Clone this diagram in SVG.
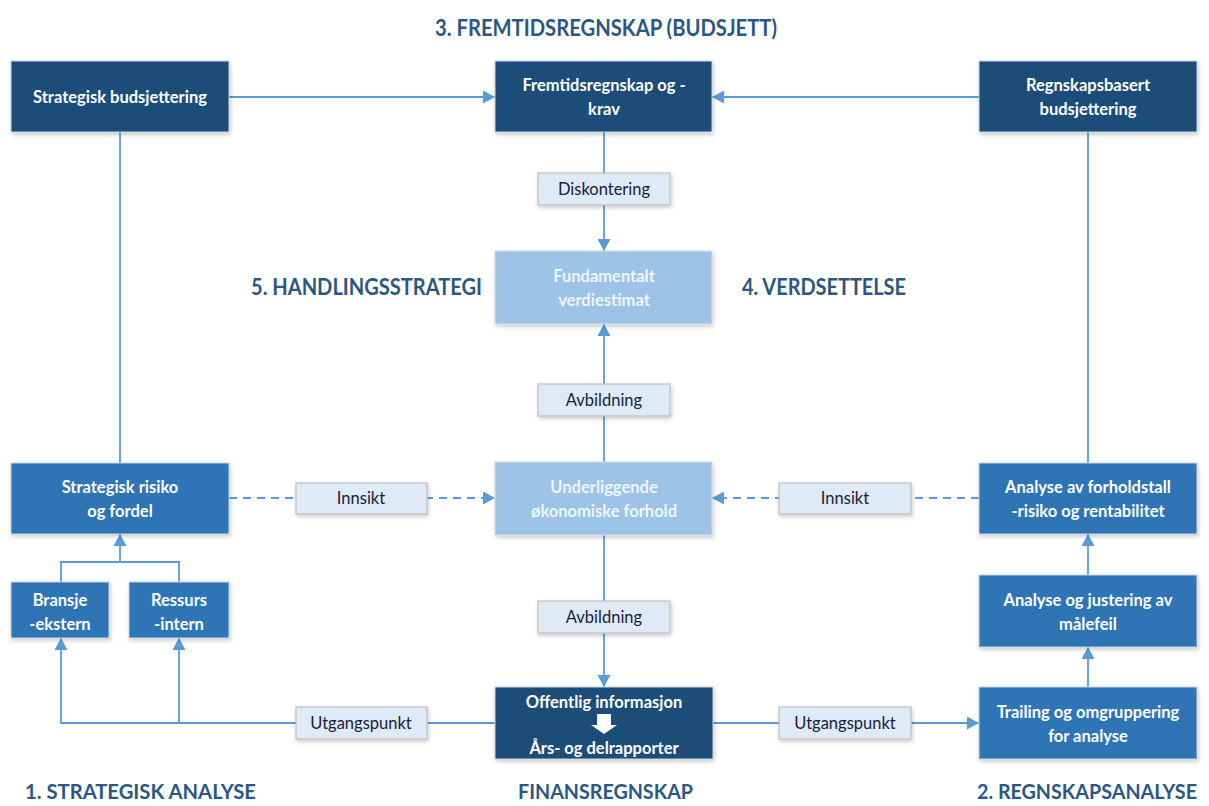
<svg xmlns="http://www.w3.org/2000/svg" width="1209" height="806" viewBox="0 0 1209 806">
  <style>
    .dark { fill: #1f4e79; stroke: #c9d3de; stroke-width: 1; }
    .mid { fill: #2e75b6; stroke: #c9d3de; stroke-width: 1; }
    .light { fill: #9dc3e6; stroke: #d4dde6; stroke-width: 1; }
    .lbl { fill: #deebf7; stroke: #bfbfbf; stroke-width: 1.2; }
    .bt { font-family: Lato, "Liberation Sans", sans-serif; font-size: 16.5px; font-weight: 700; fill: #ffffff; text-anchor: middle; }
    .lt { font-family: Lato, "Liberation Sans", sans-serif; font-size: 16.5px; font-weight: 700; fill: #eef5fc; text-anchor: middle; }
    .lb { font-family: Lato, "Liberation Sans", sans-serif; font-size: 16.5px; font-weight: 400; fill: #1b1b3a; text-anchor: middle; }
    .title { font-family: Lato, "Liberation Sans", sans-serif; font-size: 22px; font-weight: 700; fill: #2a5783; }
    .foot { font-size: 21px; }
    .conn { fill: none; stroke: #5b9bd5; stroke-width: 1.8; }
    .dash { stroke-dasharray: 8 6; }
  </style>
  <defs>
    <marker id="arr" markerUnits="userSpaceOnUse" markerWidth="13" markerHeight="13" refX="12" refY="6.5" orient="auto">
      <path d="M0,0 L12,6.5 L0,13 z" fill="#5b9bd5"/>
    </marker>
    <filter id="sh" x="-10%" y="-10%" width="120%" height="130%">
      <feDropShadow dx="1" dy="2" stdDeviation="2" flood-color="#000" flood-opacity="0.22"/>
    </filter>
  </defs>
  <rect width="1209" height="806" fill="#ffffff"/>

  <!-- section titles -->
  <g id="titles">
    <text class="title" x="435" y="36" textLength="342" lengthAdjust="spacingAndGlyphs">3. FREMTIDSREGNSKAP (BUDSJETT)</text>
    <text class="title" x="251" y="295" textLength="231" lengthAdjust="spacingAndGlyphs">5. HANDLINGSSTRATEGI</text>
    <text class="title" x="742" y="295" textLength="164" lengthAdjust="spacingAndGlyphs">4. VERDSETTELSE</text>
    <text class="title foot" x="25" y="799" textLength="231" lengthAdjust="spacingAndGlyphs">1. STRATEGISK ANALYSE</text>
    <text class="title foot" x="518" y="799" textLength="175" lengthAdjust="spacingAndGlyphs">FINANSREGNSKAP</text>
    <text class="title foot" x="1197" y="799" text-anchor="end" textLength="220" lengthAdjust="spacingAndGlyphs">2. REGNSKAPSANALYSE</text>
  </g>

  <!-- connectors -->
  <g id="connectors">
    <path class="conn" d="M229,97 H495" marker-end="url(#arr)"/>
    <path class="conn" d="M979,97 H712" marker-end="url(#arr)"/>
    <path class="conn" d="M604,132 V251" marker-end="url(#arr)"/>
    <path class="conn" d="M604,462 V324" marker-end="url(#arr)"/>
    <path class="conn" d="M604,535 V687" marker-end="url(#arr)"/>
    <path class="conn" d="M120,132 V463"/>
    <path class="conn" d="M1088,132 V463"/>
    <path class="conn dash" d="M229,498 H495" marker-end="url(#arr)"/>
    <path class="conn dash" d="M979,498 H712" marker-end="url(#arr)"/>
    <path class="conn" d="M61,582 V562 H179 V582"/>
    <path class="conn" d="M120,562 V534" marker-end="url(#arr)"/>
    <path class="conn" d="M495,723 H61 V638" marker-end="url(#arr)"/>
    <path class="conn" d="M179,723 V638" marker-end="url(#arr)"/>
    <path class="conn" d="M713,723 H979" marker-end="url(#arr)"/>
    <path class="conn" d="M1088,687 V647" marker-end="url(#arr)"/>
    <path class="conn" d="M1088,575 V534" marker-end="url(#arr)"/>
  </g>

  <!-- edge labels -->
  <g id="label-diskontering">
    <rect class="lbl" x="538" y="173" width="132" height="32" filter="url(#sh)"/>
    <text class="lb" x="604" y="195">Diskontering</text>
  </g>
  <g id="label-avbildning-1">
    <rect class="lbl" x="538" y="384" width="132" height="32" filter="url(#sh)"/>
    <text class="lb" x="604" y="406">Avbildning</text>
  </g>
  <g id="label-avbildning-2">
    <rect class="lbl" x="538" y="601" width="132" height="32" filter="url(#sh)"/>
    <text class="lb" x="604" y="623">Avbildning</text>
  </g>
  <g id="label-innsikt-left">
    <rect class="lbl" x="296" y="483" width="131" height="31" filter="url(#sh)"/>
    <text class="lb" x="361" y="504">Innsikt</text>
  </g>
  <g id="label-innsikt-right">
    <rect class="lbl" x="779" y="483" width="132" height="31" filter="url(#sh)"/>
    <text class="lb" x="845" y="504">Innsikt</text>
  </g>
  <g id="label-utgangspunkt-left">
    <rect class="lbl" x="296" y="707" width="131" height="32" filter="url(#sh)"/>
    <text class="lb" x="361" y="729">Utgangspunkt</text>
  </g>
  <g id="label-utgangspunkt-right">
    <rect class="lbl" x="779" y="707" width="132" height="32" filter="url(#sh)"/>
    <text class="lb" x="845" y="729">Utgangspunkt</text>
  </g>

  <!-- nodes -->
  <g id="strategisk-budsjettering">
    <rect class="dark" x="11" y="61" width="218" height="71" filter="url(#sh)"/>
    <text class="bt" x="120" y="103">Strategisk budsjettering</text>
  </g>
  <g id="fremtidsregnskap">
    <rect class="dark" x="495" y="61" width="217" height="71" filter="url(#sh)"/>
    <text class="bt" x="604" y="91">Fremtidsregnskap og -</text>
    <text class="bt" x="604" y="115">krav</text>
  </g>
  <g id="regnskapsbasert-budsjettering">
    <rect class="dark" x="979" y="61" width="218" height="71" filter="url(#sh)"/>
    <text class="bt" x="1088" y="91">Regnskapsbasert</text>
    <text class="bt" x="1088" y="115">budsjettering</text>
  </g>
  <g id="fundamentalt-verdiestimat">
    <rect class="light" x="495" y="251" width="217" height="73" filter="url(#sh)"/>
    <text class="lt" x="604" y="282">Fundamentalt</text>
    <text class="lt" x="604" y="306">verdiestimat</text>
  </g>
  <g id="underliggende">
    <rect class="light" x="495" y="462" width="217" height="73" filter="url(#sh)"/>
    <text class="lt" x="604" y="493">Underliggende</text>
    <text class="lt" x="604" y="517">økonomiske forhold</text>
  </g>
  <g id="strategisk-risiko">
    <rect class="mid" x="11" y="463" width="218" height="71" filter="url(#sh)"/>
    <text class="bt" x="120" y="493">Strategisk risiko</text>
    <text class="bt" x="120" y="517">og fordel</text>
  </g>
  <g id="bransje">
    <rect class="mid" x="11" y="582" width="98" height="56" filter="url(#sh)"/>
    <text class="bt" x="60" y="606">Bransje</text>
    <text class="bt" x="60" y="630">-ekstern</text>
  </g>
  <g id="ressurs">
    <rect class="mid" x="129" y="582" width="100" height="56" filter="url(#sh)"/>
    <text class="bt" x="179" y="606">Ressurs</text>
    <text class="bt" x="179" y="630">-intern</text>
  </g>
  <g id="analyse-forholdstall">
    <rect class="mid" x="979" y="463" width="218" height="71" filter="url(#sh)"/>
    <text class="bt" x="1088" y="493">Analyse av forholdstall</text>
    <text class="bt" x="1088" y="517">-risiko og rentabilitet</text>
  </g>
  <g id="analyse-justering">
    <rect class="mid" x="979" y="575" width="218" height="72" filter="url(#sh)"/>
    <text class="bt" x="1088" y="606">Analyse og justering av</text>
    <text class="bt" x="1088" y="630">målefeil</text>
  </g>
  <g id="offentlig-informasjon">
    <rect class="dark" x="495" y="687" width="218" height="72" filter="url(#sh)"/>
    <text class="bt" x="604" y="708">Offentlig informasjon</text>
    <path d="M597,714 H611 V725 H617 L604,734 L591,725 H597 Z" fill="#ffffff"/>
    <text class="bt" x="604" y="754">Års- og delrapporter</text>
  </g>
  <g id="trailing">
    <rect class="mid" x="979" y="687" width="218" height="72" filter="url(#sh)"/>
    <text class="bt" x="1088" y="718">Trailing og omgruppering</text>
    <text class="bt" x="1088" y="742">for analyse</text>
  </g>
</svg>
